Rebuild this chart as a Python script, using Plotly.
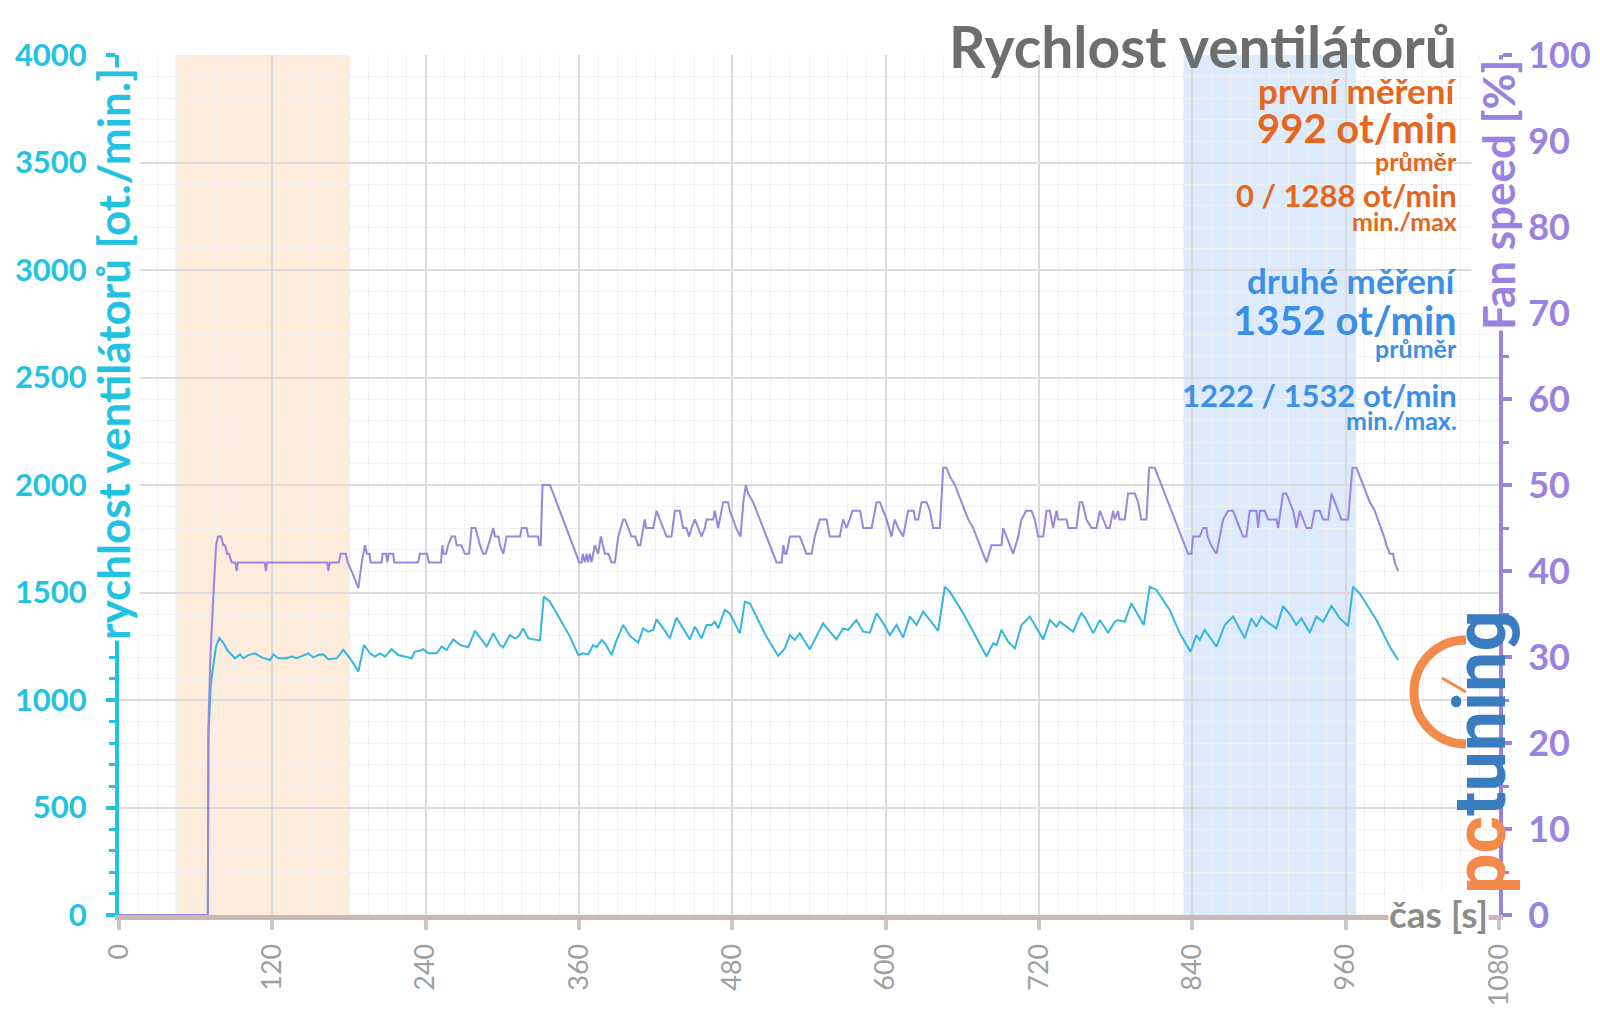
import plotly.graph_objects as go

# ---------------- data ----------------
rpm_time = [0, 69.5, 70, 72, 74, 76, 78.5, 82, 85, 88.2, 90.8, 94.7, 97.3, 101.2, 106.4, 111.6, 118.2, 120.8,
            124.7, 131.2, 135.1, 139, 144.2, 148.2, 152.1, 156, 159.9, 163.8, 170.3, 175.5, 180.8, 187.3, 191.7,
            196.4, 200.3, 204.2, 208.1, 213.3, 218.6, 223.8, 229, 231.6, 235.5, 238.1, 242, 248.6, 252.5, 256.4,
            261.6, 266.8, 273.3, 278.6, 283.8, 287.7, 292.9, 298.1, 300.7, 305.9, 309.9, 312.5, 316.4, 320.3,
            324.2, 329.4, 332.5, 337.2, 342.5, 347.7, 352.9, 359.4, 363.3, 367.2, 371.1, 373.7, 377.7, 380.3,
            385.5, 389.4, 394.6, 399.8, 406.3, 410.2, 414.1, 418.1, 420.7, 425.9, 431.1, 436.3, 441.5, 446.7,
            450.7, 455.9, 459.8, 463.7, 466.3, 468.9, 474.1, 478, 485.9, 489.8, 493.7, 498.9, 506.7, 515.9,
            521.1, 525, 528.9, 532.8, 540.6, 545.8, 551, 556.3, 561.5, 566.7, 570.6, 577.1, 582.4, 587.6, 592.9,
            598.1, 603.3, 608.5, 613.7, 618.9, 624.2, 629.4, 634.6, 641.1, 646.3, 650.2, 660.7, 669.8, 678.9,
            684.1, 686.8, 690.7, 695.9, 701.1, 706.3, 712.8, 718, 723.3, 728.5, 733.7, 736.3, 741.5, 746.7,
            753.2, 757.1, 762.4, 767.6, 774.1, 779.3, 781.9, 787.1, 792.3, 797.6, 802, 806.7, 811.9, 822.3,
            830.2, 838.5, 843.2, 845.8, 849.7, 858.9, 865.4, 871.9, 881, 886.2, 890.2, 894.1, 899.3, 905.8,
            911, 916.2, 921.4, 925.4, 931.9, 937.1, 942.4, 948.9, 955.4, 961.9, 965.8, 971, 984.1, 994.5, 1001]
rpm_value = [0, 0, 840, 1080, 1170, 1250, 1288, 1262, 1230, 1209, 1194, 1212, 1194, 1209, 1217, 1198, 1186, 1212,
             1194, 1194, 1202, 1194, 1209, 1217, 1198, 1209, 1212, 1190, 1194, 1233, 1194, 1132, 1256,
             1217, 1202, 1217, 1202, 1236, 1209, 1202, 1194, 1225, 1229, 1236, 1217, 1217, 1248, 1233,
             1282, 1256, 1245, 1322, 1279, 1248, 1310, 1256, 1245, 1302, 1287, 1295, 1333, 1287,
             1282, 1277, 1481, 1457, 1403, 1349, 1295, 1209, 1217, 1212, 1256, 1245, 1279, 1264,
             1209, 1279, 1349, 1298, 1267, 1333, 1318, 1326, 1375, 1333, 1287, 1384, 1333, 1282,
             1341, 1287, 1349, 1349, 1364, 1333, 1419, 1403, 1310, 1457, 1450, 1388, 1295, 1205,
             1240, 1302, 1279, 1310, 1236, 1295, 1357, 1318, 1282, 1333, 1326, 1372, 1318, 1313, 1403,
             1357, 1302, 1349, 1291, 1388, 1349, 1411, 1372, 1322, 1527, 1504, 1403, 1302, 1202,
             1264, 1256, 1326, 1271, 1240, 1349, 1388, 1333, 1282, 1372, 1341, 1364, 1341, 1318,
             1406, 1372, 1310, 1372, 1313, 1364, 1372, 1364, 1450, 1395, 1349, 1527, 1512, 1419,
             1310, 1225, 1302, 1279, 1326, 1248, 1349, 1388, 1287, 1380, 1341, 1388, 1360, 1333,
             1436, 1400, 1350, 1380, 1313, 1388, 1364, 1437, 1380, 1344, 1527, 1496, 1372, 1248, 1186]

pct_time = [0, 69.5, 70, 71.5, 73.8, 76, 77.5, 80, 81.6, 83, 84.7, 86, 88.2, 91, 92.1, 93, 114, 115, 116, 163,
            163.8, 165, 172, 173.5, 177.5, 179, 182, 187.3, 190, 192.5, 194, 196, 197, 205.5, 206.3, 209, 210,
            211, 214.5, 215.5, 234, 235.5, 241, 242.5, 252, 253, 254, 256, 257.5, 260.3, 263, 264.2, 268, 270.7,
            274, 276, 279, 282.5, 285, 287, 291, 292.9, 294.2, 297, 298.1, 300.7, 303.3, 314, 315.1, 319, 320.3,
            328, 328.9, 330, 331.5, 337.2, 339.9, 342.5, 345.1, 347.7, 350.3, 352.9, 355.5, 358.1, 360.2, 362,
            363, 364.5, 366, 367, 368.5, 369.8, 372.4, 375, 377.1, 380.3, 383, 385.5, 388.1, 390.7, 394.6, 396,
            398.5, 401.1, 404, 406.3, 408, 411.5, 412.5, 418.1, 420.7, 423, 425.9, 428.5, 432.4, 435, 438.9,
            441.5, 444, 446.2, 448, 450.7, 453, 455.9, 458.5, 459.8, 465, 466.3, 468.9, 471.5, 472.8, 476.7, 478,
            480.6, 483, 486.4, 488.6, 490.6, 492.4, 496.3, 498.9, 501.5, 504.1, 506.7, 509.3, 512, 514.6, 518.5,
            520, 521.1, 522.4, 525, 532.8, 535.4, 538, 542, 544.5, 548.5, 553.7, 556.3, 564.1, 566.7, 569.3,
            571.9, 574, 580, 582.4, 589, 592.9, 595.5, 598, 600.7, 604.6, 607, 609.8, 613.7, 617.6, 622, 623,
            625.5, 628.1, 632, 634.6, 637.2, 642.4, 645, 647.6, 650.2, 654.2, 656.7, 659.4, 662, 664.6, 668.5,
            671.1, 673.7, 676.3, 678.9, 682.8, 690.7, 692, 694.6, 697.2, 699.8, 703.7, 706.3, 710, 714.1, 716.7,
            719.3, 723.3, 725.9, 728.5, 731, 733.7, 735, 741.5, 743, 749.3, 751.9, 754, 757.1, 761, 765, 767.6,
            770.2, 773, 775.4, 778, 779.3, 781.9, 783, 787.1, 789.7, 795, 797.6, 800, 804.1, 806.2, 810.6, 813.2,
            815.8, 818.4, 821, 823.6, 826.3, 828.9, 831.5, 834.1, 836.7, 839.3, 840.6, 845.8, 848.4, 851, 852,
            854.7, 858.9, 864.1, 868, 871.9, 874.5, 877.1, 879.7, 882.3, 884.9, 890.2, 891.5, 892.8, 896.7, 899.3,
            905.8, 907.1, 911, 913.6, 916.2, 918.9, 921.5, 924.1, 926.7, 929.3, 933.2, 935.8, 939.7, 942.4, 946.3,
            948.9, 951.5, 954.1, 956.7, 961.9, 965.3, 968.4, 971, 973.6, 976.3, 978.9, 982.8, 985.4, 988, 990,
            991.9, 994.5, 997.1, 998.4, 1001]
pct_value = [0, 0, 22, 30, 37, 43, 44, 44, 43, 43, 42, 42, 41, 41, 40, 41, 41, 40, 41, 41,
             40, 41, 41, 42, 42, 41, 40, 38, 41, 43, 42, 42, 41, 41, 42, 42, 41,
             42, 42, 41, 41, 42, 42, 41, 41, 43, 42, 42, 43, 44, 44, 43, 43, 42,
             42, 45, 45, 43, 42, 42, 44, 45, 44, 44, 43, 42, 44, 44, 45, 45, 44,
             44, 43, 43, 50, 50, 49, 48, 47, 46, 45, 44, 43, 42, 41, 41,
             42, 41, 42, 41, 42, 41, 43, 42, 44, 42, 42, 41, 41, 44, 46, 46,
             45, 44, 44, 43, 43, 46, 45, 45, 47, 46, 45, 44, 44, 47, 47,
             45, 45, 44, 45, 46, 45, 44, 45, 46, 46, 47, 45, 47, 48, 48, 47,
             46, 45, 44, 48, 50, 49, 48, 47, 46, 45, 44, 43, 42, 41, 41,
             43, 42, 42, 44, 44, 43, 42, 42, 44, 46, 46, 44, 44, 46, 45,
             46, 47, 47, 45, 45, 48, 48, 47, 46, 44, 46, 45, 44, 47, 47, 46,
             46, 48, 48, 47, 45, 45, 52, 52, 51, 50, 49, 48, 47, 46, 45,
             44, 43, 42, 41, 43, 43, 45, 44, 43, 42, 44, 46, 47, 47, 46,
             44, 44, 47, 47, 45, 47, 46, 46, 45, 45, 48, 48, 46, 45, 45, 47,
             46, 45, 45, 47, 46, 47, 46, 46, 49, 49, 48, 46, 46, 52, 52, 51,
             50, 49, 48, 47, 46, 45, 44, 43, 42, 42, 44, 44, 45, 45, 44,
             43, 42, 46, 47, 47, 46, 45, 44, 44, 47, 47, 45, 47, 47, 46,
             46, 45, 49, 49, 48, 47, 45, 47, 46, 45, 45, 47, 47, 46, 46,
             49, 48, 47, 46, 46, 52, 52, 51, 50, 49, 48, 47, 46, 45, 44,
             43, 42, 42, 41, 40]

x_ticks = [0, 120, 240, 360, 480, 600, 720, 840, 960, 1080]
rpm_ticks = [0, 500, 1000, 1500, 2000, 2500, 3000, 3500, 4000]
pct_ticks = [0, 10, 20, 30, 40, 50, 60, 70, 80, 90, 100]

first_window = [44, 180]
second_window = [833, 968]

first_texts = ["první měření", "992 ot/min", "průměr", "0 / 1288 ot/min", "min./max"]
second_texts = ["druhé měření", "1352 ot/min", "průměr", "1222 / 1532 ot/min", "min./max."]

# ---------------- styling ----------------
CYAN_TXT = "#22c3e2"
CYAN_LINE = "#35b6df"
PURPLE_TXT = "#9a82e0"
PURPLE_LINE = "#9b86dd"
ORANGE = "#e5661c"
BLUE = "#3b8fe6"
GRAY_T = "#6e6e6e"
FONT = "Lato"

W, H = 1600, 1009
L, R, T, B = 119, 101, 55, 94
PW, PH = W - L - R, H - T - B


def px(xp):
    return (xp - L) / PW


def py(yp):
    return (H - B - yp) / PH


fig = go.Figure()

fig.add_trace(go.Scatter(x=rpm_time, y=rpm_value, mode="lines",
                         line=dict(color=CYAN_LINE, width=2), name="rpm", yaxis="y"))
fig.add_trace(go.Scatter(x=pct_time, y=pct_value, mode="lines",
                         line=dict(color=PURPLE_LINE, width=2), name="pct", yaxis="y2"))

shapes = [
    dict(type="rect", xref="x", yref="paper", x0=first_window[0], x1=first_window[1], y0=0, y1=1,
         fillcolor="#fdebdb", line=dict(width=0), layer="below"),
    dict(type="rect", xref="x", yref="paper", x0=second_window[0], x1=second_window[1], y0=0, y1=1,
         fillcolor="#dceafb", line=dict(width=0), layer="below"),
    # logo gauge arc (decoration)
    dict(type="path", xref="paper", yref="paper", xsizemode="pixel", ysizemode="pixel",
         xanchor=px(1466), yanchor=py(692),
         path="M 0,52 C -29,52 -52,29 -52,0 C -52,-29 -29,-52 0,-52",
         line=dict(color="#f28a4c", width=9)),
    dict(type="path", xref="paper", yref="paper", xsizemode="pixel", ysizemode="pixel",
         xanchor=px(1466), yanchor=py(692),
         path="M -24,14 L 0,0",
         line=dict(color="#f28a4c", width=3)),
]

ann = []
ann.append(dict(text="<b>Rychlost ventilátorů</b>", x=px(1459), y=py(46), xref="paper", yref="paper",
                xanchor="right", yanchor="middle", showarrow=False,
                font=dict(family=FONT, size=57, color=GRAY_T)))

sizes1 = [35, 40, 25, 31, 25]
sizes2 = [35, 40, 25, 31, 25]
ys1 = [90, 128, 161, 195, 221]
ys2 = [280, 320, 348, 395, 420]
for txt, s, yy in zip(first_texts, sizes1, ys1):
    ann.append(dict(text=f"<b>{txt}</b>", x=px(1459), y=py(yy), xref="paper", yref="paper",
                    xanchor="right", yanchor="middle", showarrow=False,
                    font=dict(family=FONT, size=s, color=ORANGE)))
for txt, s, yy in zip(second_texts, sizes2, ys2):
    ann.append(dict(text=f"<b>{txt}</b>", x=px(1459), y=py(yy), xref="paper", yref="paper",
                    xanchor="right", yanchor="middle", showarrow=False,
                    font=dict(family=FONT, size=s, color=BLUE)))

# axis titles
ann.append(dict(text="<b>rychlost ventilátorů [ot./min.]</b>", x=px(113), y=py(354), xref="paper",
                yref="paper", textangle=-90, showarrow=False, xanchor="center", yanchor="middle",
                bgcolor="white", borderpad=0,
                font=dict(family=FONT, size=44, color=CYAN_TXT)))
ann.append(dict(text="<b>Fan speed [%]</b>", x=px(1498), y=py(195), xref="paper",
                yref="paper", textangle=-90, showarrow=False, xanchor="center", yanchor="middle",
                bgcolor="white", borderpad=0,
                font=dict(family=FONT, size=44, color=PURPLE_TXT)))
ann.append(dict(text="<b>čas [s]</b>", x=px(1438), y=py(913), xref="paper", yref="paper",
                showarrow=False, xanchor="center", yanchor="middle", bgcolor="white", borderpad=0,
                font=dict(family=FONT, size=37, color="#8c8c8c")))
# logo text (decoration)
ann.append(dict(text="<b><span style='color:#f28a4c'>pc</span><span style='color:#3a7cc0'>tuning</span></b>",
                x=px(1480), y=py(752), xref="paper", yref="paper", textangle=-90, showarrow=False,
                xanchor="center", yanchor="middle",
                font=dict(family="Roboto", size=72, color="#3a7cc0")))

fig.update_layout(
    width=W, height=H,
    margin=dict(l=L, r=R, t=T, b=B, pad=0, autoexpand=False),
    paper_bgcolor="white", plot_bgcolor="white",
    showlegend=False,
    shapes=shapes, annotations=ann,
    xaxis=dict(range=[0, 1080], tickvals=x_ticks, ticktext=[str(v) for v in x_ticks],
               tickangle=-90, tickfont=dict(family=FONT, size=27, color="#a0a0a0"),
               showgrid=True, gridcolor="#dadada", gridwidth=2,
               showline=True, linecolor="#c8bab3", linewidth=5,
               ticks="outside", ticklen=10, tickwidth=4, tickcolor="#c8c8c8",
               ticklabelstandoff=3, automargin=False,
               minor=dict(dtick=15, showgrid=True, gridcolor="#f0f0f0", gridwidth=1),
               zeroline=False, fixedrange=True),
    yaxis=dict(range=[0, 4000], tickvals=rpm_ticks, ticktext=[f"<b>{v}</b>" for v in rpm_ticks],
               tickfont=dict(family=FONT, size=31, color=CYAN_TXT),
               showgrid=True, gridcolor="#dcdcdc", gridwidth=2,
               showline=True, linecolor=CYAN_TXT, linewidth=4,
               ticks="outside", ticklen=9, tickwidth=4, tickcolor=CYAN_TXT,
               ticklabelstandoff=13, automargin=False,
               minor=dict(dtick=100, showgrid=True, gridcolor="#f0f0f0", gridwidth=1,
                          ticks="outside", ticklen=6, tickwidth=3, tickcolor=CYAN_TXT),
               zeroline=False),
    yaxis2=dict(range=[0, 100], overlaying="y", side="right", tickvals=pct_ticks,
                ticktext=[f"<b>{v}</b>" for v in pct_ticks],
                tickfont=dict(family=FONT, size=36, color=PURPLE_TXT),
                showgrid=False, showline=True, linecolor=PURPLE_TXT, linewidth=4,
                ticks="outside", ticklen=9, tickwidth=4, tickcolor=PURPLE_TXT,
                ticklabelstandoff=9, automargin=False,
                minor=dict(dtick=5, ticks="outside", ticklen=6, tickwidth=3, tickcolor=PURPLE_TXT,
                           showgrid=False),
                zeroline=False),
)

fig.write_html("out.html")
